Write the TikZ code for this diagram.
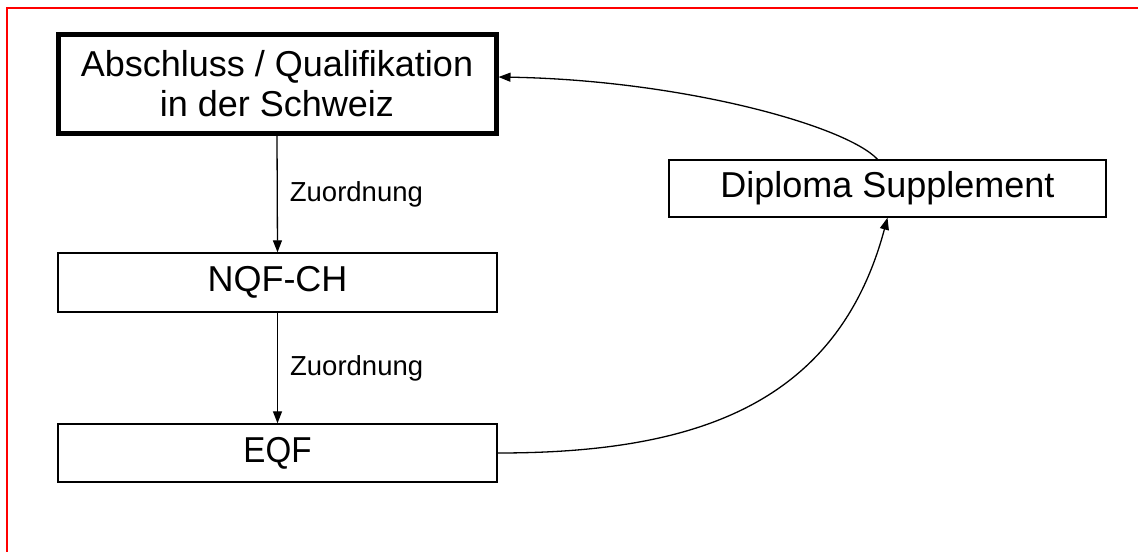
\documentclass[tikz,border=0pt]{standalone}
\usepackage{fontspec}
\setmainfont{Liberation Sans}
\usetikzlibrary{arrows.meta}
\begin{document}
\begin{tikzpicture}[x=1pt,y=-1pt,
  box/.style={draw=black, line width=1.4pt, inner sep=0pt, align=center,
    font=\fontsize{36}{40}\selectfont},
  mainbox/.style={box, line width=5pt},
  arr/.style={line width=1.3pt, -{Triangle[length=12pt,width=9pt]}},
  lbl/.style={inner sep=0pt, anchor=west, font=\fontsize{27.5}{30}\selectfont},
  frame/.style={draw=red, line width=2.5pt}]
\useasboundingbox (0,0) rectangle (1138,552);
\draw[frame] (1138,8) -- (7,8) -- (7,552);
\node[mainbox, minimum width=438pt, minimum height=99pt] (top) at (277,84)
  {Abschluss / Qualifikation\\in der Schweiz};
\node[box, minimum width=439pt, minimum height=59pt] (nqf) at (277.5,282.5) {NQF-CH};
\node[box, minimum width=439pt, minimum height=58pt] (eqf) at (277.5,453) {\scalebox{0.92}[1]{EQF}};
\node[box, minimum width=437pt, minimum height=57pt] (ds) at (887.5,188.5) {Diploma Supplement};
\coordinate (dsN) at ([xshift=-10pt]ds.north);
\coordinate (topE) at ([yshift=7pt]top.east);
\draw[arr] (top.south) -- (nqf.north) node[lbl, midway, xshift=12pt] {Zuordnung};
\draw[arr] (nqf.south) -- (eqf.north) node[lbl, midway, xshift=12pt] {Zuordnung};
\draw[arr] (eqf.east) to[out=0, in=-105, looseness=1.1] (ds.south);
\draw[arr] (dsN) .. controls (845,125) and (680,80) .. (topE);
\end{tikzpicture}
\end{document}
